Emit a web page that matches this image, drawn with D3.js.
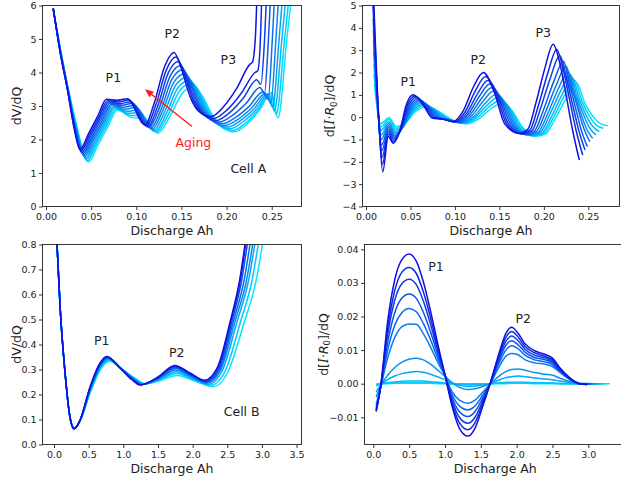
<!DOCTYPE html>
<html><head><meta charset="utf-8">
<script src="https://cdn.jsdelivr.net/npm/d3@7"></script>
<style>body{margin:0;background:#fff} svg text{font-family:"DejaVu Sans",sans-serif}</style>
</head><body><svg id="c" width="621" height="482"></svg>
<script>
// ---------------- DATA ----------------
// Cell A, dV/dQ : rows = curve features (left to right), columns = curves (aged/dark -> fresh/cyan)
const cellA_dvdq_x = [
 [0.008,0.008,0.008,0.008,0.008,0.008,0.008,0.008,0.008,0.008],
 [0.016,0.016,0.016,0.016,0.016,0.016,0.016,0.016,0.016,0.016],
 [0.024,0.024,0.024,0.024,0.024,0.024,0.024,0.024,0.024,0.024],
 [0.031,0.0312,0.0314,0.0317,0.0319,0.0321,0.0323,0.0326,0.0328,0.033],
 [0.0377,0.0387,0.0398,0.0408,0.0418,0.0429,0.0439,0.0449,0.046,0.047],
 [0.0475,0.0486,0.0497,0.0508,0.0519,0.0531,0.0542,0.0553,0.0564,0.0577],
 [0.0573,0.0585,0.0597,0.0609,0.0621,0.0634,0.0646,0.0658,0.067,0.0683],
 [0.067,0.0683,0.0697,0.071,0.0723,0.0737,0.075,0.0763,0.0777,0.079],
 [0.0785,0.0803,0.0822,0.084,0.0858,0.0877,0.0895,0.0913,0.0932,0.095],
 [0.090,0.092,0.094,0.096,0.098,0.100,0.102,0.104,0.106,0.108],
 [0.1095,0.1111,0.1127,0.1143,0.1159,0.1176,0.1192,0.1208,0.1224,0.124],
 [0.12,0.1219,0.1238,0.1257,0.1276,0.1294,0.1313,0.1332,0.1351,0.137],
 [0.131,0.1332,0.1353,0.1375,0.1397,0.1419,0.1441,0.1463,0.1484,0.151],
 [0.1418,0.144,0.1465,0.149,0.1515,0.154,0.1565,0.159,0.1615,0.164],
 [0.1495,0.1521,0.1547,0.1574,0.16,0.1626,0.1652,0.1678,0.1704,0.173],
 [0.16,0.1628,0.1656,0.1683,0.1711,0.1739,0.1767,0.1794,0.1822,0.185],
 [0.171,0.1738,0.1766,0.1793,0.1821,0.1849,0.1877,0.1904,0.1932,0.196],
 [0.183,0.186,0.189,0.192,0.195,0.198,0.201,0.204,0.207,0.209],
 [0.1973,0.2012,0.2038,0.207,0.21,0.213,0.2157,0.2183,0.221,0.2227],
 [0.2117,0.2163,0.2186,0.222,0.225,0.228,0.2303,0.2327,0.235,0.2363],
 [0.226,0.2315,0.2334,0.237,0.240,0.243,0.245,0.247,0.249,0.250],
 [0.2285,0.2345,0.238,0.242,0.246,0.249,0.251,0.253,0.255,0.257],
 [0.2318,0.2375,0.2421,0.2464,0.2507,0.2547,0.2582,0.2613,0.2643,0.2668],
 [0.2338,0.2392,0.2445,0.249,0.2535,0.258,0.2625,0.2662,0.2698,0.2725]
];
const cellA_dvdq_y = [
 [5.92,5.92,5.91,5.91,5.9,5.9,5.89,5.89,5.88,5.88],
 [4.55,4.57,4.58,4.6,4.62,4.63,4.65,4.67,4.68,4.7],
 [3.45,3.47,3.48,3.5,3.52,3.53,3.55,3.57,3.58,3.6],
 [2.35,2.37,2.39,2.4,2.42,2.44,2.46,2.48,2.5,2.52],
 [1.70,1.66,1.62,1.58,1.54,1.5,1.45,1.41,1.37,1.33],
 [2.2,2.16,2.12,2.08,2.04,2.01,1.97,1.93,1.89,1.85],
 [2.7,2.66,2.63,2.59,2.55,2.52,2.48,2.44,2.41,2.37],
 [3.2,3.16,3.12,3.09,3.05,3.02,2.98,2.95,2.91,2.88],
 [3.17,3.12,3.07,3.02,2.96,2.9,2.84,2.78,2.72,2.66],
 [3.22,3.18,3.13,3.08,3.02,2.96,2.88,2.80,2.71,2.62],
 [2.44,2.41,2.38,2.36,2.33,2.3,2.27,2.24,2.22,2.19],
 [3.1,3.05,3.0,2.96,2.91,2.87,2.82,2.77,2.73,2.68],
 [4.15,4.07,3.98,3.89,3.81,3.72,3.64,3.55,3.47,3.38],
 [4.6,4.46,4.33,4.2,4.08,3.96,3.86,3.76,3.68,3.6],
 [4.15,4.03,3.92,3.82,3.72,3.63,3.55,3.47,3.39,3.3],
 [3.25,3.19,3.13,3.07,3.0,2.94,2.88,2.82,2.76,2.7],
 [2.8,2.75,2.7,2.65,2.6,2.55,2.5,2.45,2.4,2.35],
 [2.69,2.63,2.57,2.52,2.47,2.42,2.37,2.32,2.27,2.23],
 [3.0,2.9,2.81,2.73,2.66,2.61,2.57,2.53,2.49,2.46],
 [3.55,3.38,3.24,3.09,2.99,2.95,2.91,2.89,2.88,2.87],
 [4.25,4.0,3.78,3.55,3.42,3.38,3.36,3.36,3.38,3.4],
 [4.3,4.05,3.65,3.38,3.2,3.08,2.97,2.85,2.74,2.64],
 [5.0,5.0,5.0,5.0,5.0,5.0,5.0,5.0,5.0,5.0],
 [6.4,6.4,6.4,6.4,6.4,6.4,6.4,6.4,6.4,6.4]
];

// Cell A, d[I*R0]/dQ
const cellA_ir_x = [
 [0.0075,0.0077,0.0079,0.0081,0.0083,0.0085,0.0087,0.0089,0.0091,0.0093],
 [0.0143,0.0142,0.014,0.0139,0.0138,0.0137,0.0136,0.0135,0.0134,0.0133],
 [0.0188,0.0185,0.0181,0.0178,0.0175,0.0172,0.0169,0.0166,0.0163,0.016],
 [0.025,0.0251,0.0252,0.0253,0.0254,0.0255,0.0256,0.0257,0.0258,0.026],
 [0.0307,0.031,0.0314,0.0318,0.0322,0.0326,0.033,0.0333,0.0337,0.034],
 [0.038,0.0389,0.0397,0.0405,0.0414,0.0423,0.0431,0.0439,0.0446,0.0453],
 [0.0457,0.0469,0.0481,0.0493,0.0505,0.0518,0.053,0.0542,0.0554,0.0567],
 [0.0532,0.0548,0.0565,0.0581,0.0598,0.0614,0.063,0.0647,0.0663,0.068],
 [0.065,0.0669,0.0688,0.0707,0.0726,0.0744,0.0763,0.0782,0.0801,0.082],
 [0.075,0.0769,0.0788,0.0807,0.0826,0.0844,0.0863,0.0882,0.0901,0.092],
 [0.086,0.0876,0.0891,0.0907,0.0922,0.0938,0.0953,0.0969,0.0984,0.1],
 [0.098,0.0997,0.1013,0.103,0.1047,0.1063,0.108,0.1097,0.1113,0.113],
 [0.1093,0.1114,0.1135,0.1153,0.1171,0.1192,0.1213,0.1227,0.1242,0.126],
 [0.1207,0.1231,0.1253,0.1273,0.1293,0.1314,0.1336,0.1353,0.1371,0.139],
 [0.132,0.1345,0.137,0.139,0.141,0.1435,0.146,0.148,0.150,0.152],
 [0.1445,0.1467,0.149,0.151,0.153,0.1553,0.1575,0.1597,0.162,0.164],
 [0.156,0.1582,0.1604,0.1627,0.1649,0.1671,0.1693,0.1716,0.1738,0.176],
 [0.172,0.174,0.176,0.178,0.18,0.182,0.184,0.186,0.188,0.19],
 [0.1816,0.1841,0.1865,0.189,0.1913,0.1934,0.1955,0.1976,0.1997,0.2018],
 [0.1913,0.1943,0.197,0.2,0.2025,0.2048,0.207,0.2092,0.2113,0.2135],
 [0.2009,0.2044,0.2075,0.211,0.2138,0.2161,0.2185,0.2208,0.223,0.2253],
 [0.2105,0.2145,0.218,0.222,0.225,0.2275,0.23,0.2324,0.2346,0.237],
 [0.2179,0.2218,0.2251,0.2287,0.2317,0.2344,0.2372,0.2399,0.2427,0.2459],
 [0.2252,0.2291,0.2322,0.2355,0.2385,0.2412,0.2443,0.2474,0.2508,0.2548],
 [0.2326,0.2364,0.2392,0.2422,0.2452,0.2481,0.2515,0.2549,0.2588,0.2636],
 [0.2399,0.2437,0.2463,0.2489,0.2519,0.2549,0.2586,0.2624,0.2669,0.2725]
];
const cellA_ir_y = [
 [6.5,5.6,5.0,4.4,3.9,3.4,2.9,2.4,1.95,1.5],
 [0.0,0.0,0.04,0.09,0.14,0.19,0.2,0.21,0.2,0.19],
 [-2.45,-2.1,-1.8,-1.5,-1.25,-1.0,-0.8,-0.6,-0.45,-0.3],
 [-0.87,-0.75,-0.64,-0.54,-0.45,-0.36,-0.28,-0.2,-0.11,-0.03],
 [-1.17,-1.09,-1.0,-0.92,-0.84,-0.76,-0.68,-0.59,-0.5,-0.42],
 [-0.6,-0.56,-0.52,-0.48,-0.44,-0.4,-0.36,-0.31,-0.26,-0.2],
 [0.6,0.56,0.52,0.48,0.45,0.42,0.39,0.36,0.32,0.29],
 [1.0,0.95,0.89,0.83,0.77,0.71,0.65,0.58,0.52,0.45],
 [0.5,0.47,0.44,0.42,0.39,0.36,0.33,0.31,0.28,0.25],
 [-0.05,-0.04,-0.04,-0.03,-0.03,-0.02,-0.02,-0.01,-0.01,0.0],
 [-0.08,-0.09,-0.1,-0.11,-0.12,-0.13,-0.14,-0.15,-0.16,-0.18],
 [-0.2,-0.21,-0.22,-0.23,-0.24,-0.25,-0.26,-0.27,-0.28,-0.3],
 [0.28,0.23,0.19,0.15,0.11,0.07,0.03,0.0,-0.05,-0.1],
 [1.34,1.19,1.04,0.92,0.8,0.7,0.6,0.5,0.42,0.33],
 [2.0,1.82,1.64,1.48,1.32,1.17,1.02,0.88,0.74,0.6],
 [1.1,1.0,0.92,0.84,0.76,0.68,0.6,0.5,0.4,0.3],
 [-0.3,-0.3,-0.31,-0.32,-0.33,-0.35,-0.37,-0.4,-0.42,-0.45],
 [-0.72,-0.74,-0.75,-0.77,-0.78,-0.8,-0.81,-0.83,-0.84,-0.86],
 [-0.56,-0.59,-0.61,-0.64,-0.66,-0.69,-0.7,-0.73,-0.74,-0.76],
 [0.67,0.58,0.48,0.37,0.29,0.2,0.14,0.07,0.03,-0.02],
 [2.15,1.97,1.78,1.58,1.42,1.25,1.14,1.03,0.95,0.86],
 [3.26,3.03,2.76,2.5,2.28,2.05,1.9,1.75,1.65,1.53],
 [2.43,2.13,1.83,1.54,1.3,1.09,0.93,0.81,0.73,0.65],
 [0.95,0.76,0.6,0.44,0.35,0.22,0.14,0.09,0.08,0.05],
 [-0.63,-0.61,-0.58,-0.59,-0.53,-0.53,-0.48,-0.41,-0.35,-0.29],
 [-1.92,-1.7,-1.47,-1.32,-1.1,-0.95,-0.8,-0.65,-0.5,-0.39]
];

// Cell B, dV/dQ
const cellB_dvdq_x = [
 [0.04,0.04,0.04,0.04,0.04,0.04,0.04,0.04],
 [0.09,0.09,0.09,0.09,0.09,0.09,0.09,0.09],
 [0.16,0.16,0.16,0.16,0.16,0.16,0.16,0.16],
 [0.23,0.23,0.23,0.23,0.23,0.23,0.23,0.23],
 [0.29,0.29,0.291,0.291,0.292,0.292,0.293,0.294],
 [0.375,0.375,0.375,0.375,0.375,0.375,0.375,0.375],
 [0.52,0.521,0.522,0.523,0.525,0.527,0.53,0.533],
 [0.66,0.662,0.664,0.666,0.668,0.671,0.675,0.68],
 [0.76,0.765,0.77,0.775,0.78,0.785,0.79,0.8],
 [0.95,0.955,0.96,0.965,0.97,0.975,0.98,0.99],
 [1.13,1.135,1.14,1.145,1.15,1.155,1.16,1.17],
 [1.24,1.25,1.26,1.27,1.28,1.29,1.3,1.32],
 [1.5,1.5,1.5,1.5,1.5,1.5,1.5,1.5],
 [1.74,1.745,1.75,1.755,1.76,1.765,1.77,1.78],
 [1.97,1.975,1.98,1.985,1.99,2.0,2.01,2.02],
 [2.17,2.18,2.19,2.2,2.21,2.23,2.26,2.3],
 [2.36,2.37,2.38,2.39,2.4,2.42,2.46,2.5],
 [2.54,2.55,2.565,2.585,2.61,2.64,2.69,2.745],
 [2.68,2.69,2.71,2.745,2.78,2.81,2.86,2.92],
 [2.78,2.79,2.815,2.855,2.895,2.925,2.975,3.035]
];
const cellB_dvdq_y = [
 [0.82,0.82,0.82,0.82,0.82,0.82,0.82,0.82],
 [0.54,0.54,0.54,0.54,0.54,0.54,0.54,0.54],
 [0.285,0.285,0.285,0.285,0.285,0.285,0.285,0.285],
 [0.11,0.11,0.11,0.11,0.11,0.11,0.11,0.11],
 [0.063,0.063,0.063,0.063,0.064,0.064,0.064,0.065],
 [0.097,0.097,0.096,0.096,0.095,0.095,0.094,0.093],
 [0.23,0.229,0.227,0.225,0.223,0.221,0.218,0.215],
 [0.324,0.322,0.32,0.318,0.315,0.312,0.308,0.304],
 [0.352,0.351,0.349,0.347,0.344,0.341,0.337,0.333],
 [0.306,0.306,0.305,0.305,0.304,0.303,0.302,0.3],
 [0.258,0.259,0.26,0.261,0.262,0.263,0.264,0.265],
 [0.238,0.239,0.239,0.24,0.241,0.242,0.243,0.244],
 [0.27,0.268,0.266,0.264,0.262,0.259,0.256,0.253],
 [0.316,0.313,0.309,0.304,0.298,0.291,0.284,0.276],
 [0.285,0.282,0.278,0.274,0.27,0.265,0.26,0.255],
 [0.257,0.254,0.251,0.248,0.245,0.241,0.237,0.232],
 [0.31,0.306,0.302,0.298,0.294,0.29,0.288,0.285],
 [0.49,0.49,0.49,0.49,0.49,0.49,0.49,0.49],
 [0.66,0.66,0.66,0.66,0.66,0.66,0.66,0.66],
 [0.85,0.85,0.85,0.85,0.85,0.85,0.85,0.85]
];

// Cell B, d[I*R0]/dQ : shared Ah grid, one row per curve, plus each curve's last point
const cellB_ir_grid = [0.04,0.1,0.2,0.3,0.4,0.5,0.6,0.7,0.8,0.9,1.0,1.1,1.2,1.32,1.42,1.52,1.63,1.75,1.85,1.93,2.02,2.12,2.25,2.4,2.5,2.6,2.75,2.88];
const cellB_ir_y = [
 [-0.0083,-0.0012,0.0185,0.031,0.037,0.0386,0.0365,0.0302,0.0215,0.0118,0.0026,-0.0068,-0.0132,-0.0156,-0.0132,-0.0072,0.0,0.0088,0.015,0.0168,0.015,0.0118,0.0098,0.0087,0.0076,0.0048,0.0016,0.0],
 [-0.0081,-0.0013,0.0163,0.0278,0.0332,0.0346,0.0328,0.0272,0.0195,0.0108,0.0026,-0.0059,-0.0116,-0.0137,-0.0116,-0.0063,0.0,0.0081,0.0138,0.0155,0.0139,0.011,0.0092,0.0081,0.0071,0.0045,0.0015,0.0],
 [-0.0078,-0.0013,0.0145,0.0249,0.0298,0.0311,0.0295,0.0245,0.0176,0.0098,0.0026,-0.0051,-0.01,-0.0118,-0.01,-0.0054,0.0,0.0074,0.0126,0.0142,0.0128,0.0102,0.0085,0.0076,0.0066,0.0042,0.0014,0.0],
 [-0.0075,-0.0014,0.0122,0.0212,0.0255,0.0267,0.0254,0.0212,0.0153,0.0086,0.0026,-0.0042,-0.0083,-0.0098,-0.0083,-0.0045,0.0,0.0067,0.0114,0.0128,0.0116,0.0093,0.0078,0.0071,0.0062,0.004,0.0013,0.0],
 [-0.007,-0.0014,0.0099,0.0175,0.0212,0.0224,0.0214,0.0179,0.013,0.0074,0.0025,-0.0033,-0.0066,-0.0078,-0.0066,-0.0036,0.0,0.0059,0.01,0.0113,0.0104,0.0084,0.0071,0.0065,0.0057,0.0037,0.0012,0.0],
 [-0.0062,-0.0013,0.0076,0.0138,0.017,0.0178,0.0177,0.0148,0.0108,0.0063,0.0024,-0.0024,-0.0049,-0.0058,-0.0049,-0.0027,0.0,0.0048,0.0082,0.009,0.0086,0.0071,0.0062,0.0058,0.0051,0.0034,0.0011,0.0],
 [-0.004,-0.0008,0.0025,0.0048,0.0064,0.0073,0.0076,0.0071,0.0058,0.004,0.0022,0.0003,-0.0011,-0.0017,-0.0015,-0.0009,0.0,0.0022,0.0036,0.0042,0.0044,0.004,0.0033,0.0028,0.0025,0.0017,0.0006,0.0001],
 [-0.0025,-0.0004,0.0012,0.0023,0.003,0.0034,0.0036,0.0034,0.0028,0.002,0.0012,0.0002,-0.0005,-0.0008,-0.0007,-0.0004,0.0,0.0011,0.0018,0.0021,0.0023,0.0021,0.0017,0.0014,0.0012,0.0008,0.0003,0.0],
 [-0.0006,-0.0001,0.0003,0.0005,0.0007,0.0008,0.0008,0.0008,0.0006,0.0004,0.0002,0.0,-0.0002,-0.0003,-0.0002,-0.0001,0.0,0.0002,0.0004,0.0004,0.0004,0.0004,0.0003,0.0003,0.0002,0.0001,0.0,0.0],
 [-0.0003,0.0,0.0001,0.0002,0.0003,0.0003,0.0003,0.0003,0.0002,0.0002,0.0001,0.0,-0.0001,-0.0001,-0.0001,0.0,0.0,0.0001,0.0001,0.0002,0.0002,0.0002,0.0001,0.0001,0.0001,0.0,0.0,0.0],
 [-0.0001,0.0,0.0,0.0001,0.0001,0.0001,0.0001,0.0001,0.0001,0.0,0.0,0.0,0.0,0.0,0.0,0.0,0.0,0.0,0.0,0.0001,0.0001,0.0001,0.0,0.0,0.0,0.0,0.0,0.0]
];
const cellB_ir_endX = [2.98,3.0,3.01,3.02,3.04,3.06,3.1,3.15,3.2,3.25,3.3];
const cellB_ir_endY = [-0.0003,-0.0002,-0.0002,-0.0001,-0.0001,0.0,0.0,0.0,0.0,0.0,0.0];

// ticks
const ticksA_x = [0,0.05,0.10,0.15,0.20,0.25];
const ticksA_dvdq_y = [0,1,2,3,4,5,6];
const ticksA_ir_y = [-4,-3,-2,-1,0,1,2,3,4,5];
const ticksB_x = [0,0.5,1.0,1.5,2.0,2.5,3.0,3.5];
const ticksB_dvdq_y = [0,0.1,0.2,0.3,0.4,0.5,0.6,0.7,0.8];
const ticksB_ir_x = [0,0.5,1.0,1.5,2.0,2.5,3.0];
const ticksB_ir_y = [-0.01,0,0.01,0.02,0.03,0.04];

// ---------------- DRAW ----------------
const svg = d3.select("#c");
const FONT = '"DejaVu Sans", sans-serif';

function fromFeatures(xRows, yRows){
  const n = xRows[0].length;
  return d3.range(n).map(i => xRows.map((row, j) => [row[i], yRows[j][i]]));
}
function fromGrid(grid, rows, endX, endY){
  return rows.map((r, i) => grid.map((gx, j) => [gx, r[j]]).concat([[endX[i], endY[i]]]));
}

function panel(cfg){
  const x = d3.scaleLinear().domain(cfg.xDomain).range([cfg.left, cfg.right]);
  const y = d3.scaleLinear().domain(cfg.yDomain).range([cfg.bottom, cfg.top]);
  const g = svg.append("g");
  svg.append("clipPath").attr("id", cfg.id).append("rect")
    .attr("x", cfg.left).attr("y", cfg.top)
    .attr("width", cfg.right - cfg.left).attr("height", cfg.bottom - cfg.top);
  const n = cfg.curves.length;
  const col = i => d3.interpolateRgb("#1010e0", "#00e8ff")(n === 1 ? 0 : i / (n - 1));
  const line = d3.line().x(d => x(d[0])).y(d => y(d[1])).curve(d3.curveMonotoneX);
  const lg = g.append("g").attr("clip-path", `url(#${cfg.id})`);
  for (let i = n - 1; i >= 0; i--) {
    lg.append("path").attr("d", line(cfg.curves[i]))
      .attr("fill", "none").attr("stroke", col(i)).attr("stroke-width", 1.5)
      .attr("stroke-linejoin", "round");
  }
  const styleAxis = a => {
    a.select(".domain").remove();
    a.selectAll(".tick line").attr("stroke", "#222").attr("stroke-width", 0.9);
    a.selectAll(".tick text").attr("fill", "#222").attr("font-size", 9.5).attr("font-family", FONT);
  };
  g.append("g").attr("transform", `translate(0,${cfg.bottom})`)
    .call(d3.axisBottom(x).tickValues(cfg.xTicks).tickFormat(cfg.xFmt).tickSize(3.5).tickPadding(3))
    .call(styleAxis);
  g.append("g").attr("transform", `translate(${cfg.left},0)`)
    .call(d3.axisLeft(y).tickValues(cfg.yTicks).tickFormat(cfg.yFmt).tickSize(3.5).tickPadding(2.5))
    .call(styleAxis);
  g.append("rect").attr("x", cfg.left).attr("y", cfg.top)
    .attr("width", cfg.right - cfg.left).attr("height", cfg.bottom - cfg.top)
    .attr("fill", "none").attr("stroke", "#222").attr("stroke-width", 0.9);
  // x label
  g.append("text").attr("x", (cfg.left + Math.min(cfg.right, 621)) / 2 + (cfg.xlabShift || 0))
    .attr("y", cfg.bottom + 28.5).attr("text-anchor", "middle")
    .attr("font-size", 12.5).attr("fill", "#222").text("Discharge Ah");
  // y label
  const yl = g.append("text")
    .attr("transform", `translate(${cfg.ylabX},${(cfg.top + cfg.bottom) / 2}) rotate(-90)`)
    .attr("text-anchor", "middle").attr("font-size", 12.5).attr("fill", "#222");
  if (cfg.ylabel === "dv") {
    yl.text("dV/dQ");
  } else {
    yl.append("tspan").text("d[");
    yl.append("tspan").attr("font-style", "italic").attr("font-family", '"DejaVu Serif", serif').text("I");
    yl.append("tspan").text("·");
    yl.append("tspan").attr("font-style", "italic").text("R");
    yl.append("tspan").attr("font-size", 8.5).attr("dy", 2.5).text("0");
    yl.append("tspan").attr("dy", -2.5).text("]/dQ");
  }
  // annotations
  (cfg.notes || []).forEach(nt => {
    g.append("text").attr("x", x(nt[0])).attr("y", y(nt[1]))
      .attr("text-anchor", "middle").attr("font-size", 12.5)
      .attr("fill", nt[3] || "#222").text(nt[2]);
  });
  return {x, y, g};
}

const f2 = d3.format(".2f"), f1 = d3.format(".1f"), fi = d3.format("d");

const pA = panel({
  id: "clipA", left: 42.5, right: 301.5, top: 5.5, bottom: 206.5,
  xDomain: [-0.00388, 0.2830], yDomain: [0, 6],
  xTicks: ticksA_x, yTicks: ticksA_dvdq_y, xFmt: f2, yFmt: fi,
  curves: fromFeatures(cellA_dvdq_x, cellA_dvdq_y), ylabel: "dv", ylabX: 21,
  notes: [[0.0746, 3.73, "P1"], [0.1399, 5.03, "P2"], [0.202, 4.26, "P3"],
          [0.1632, 1.79, "Aging", "#ff1a1a"], [0.2241, 1.0, "Cell A"]]
});
// aging arrow
{
  const x0 = pA.x(0.1617), y0 = pA.y(2.39), x1 = pA.x(0.1097), y1 = pA.y(3.5);
  const ang = Math.atan2(y1 - y0, x1 - x0), L = 8.5, Wd = 3.6;
  const bx = x1 - L * Math.cos(ang), by = y1 - L * Math.sin(ang);
  pA.g.append("line").attr("x1", x0).attr("y1", y0).attr("x2", bx).attr("y2", by)
    .attr("stroke", "#ff1a1a").attr("stroke-width", 1.4);
  pA.g.append("polygon").attr("fill", "#ff1a1a").attr("points", [
    [x1, y1],
    [bx + Wd * Math.sin(ang), by - Wd * Math.cos(ang)],
    [bx - Wd * Math.sin(ang), by + Wd * Math.cos(ang)]
  ].map(p => p.join(",")).join(" "));
}

panel({
  id: "clipB", left: 362.5, right: 619.5, top: 5.5, bottom: 206.5,
  xDomain: [-0.00394, 0.2851], yDomain: [-4, 5],
  xTicks: ticksA_x, yTicks: ticksA_ir_y, xFmt: f2, yFmt: fi,
  curves: fromFeatures(cellA_ir_x, cellA_ir_y), ylabel: "ir", ylabX: 334,
  notes: [[0.0476, 1.41, "P1"], [0.1263, 2.39, "P2"], [0.1994, 3.59, "P3"]]
});

panel({
  id: "clipC", left: 42.5, right: 301.5, top: 244.5, bottom: 444.5,
  xDomain: [-0.166, 3.571], yDomain: [0, 0.8],
  xTicks: ticksB_x, yTicks: ticksB_dvdq_y, xFmt: f1, yFmt: f1,
  curves: fromFeatures(cellB_dvdq_x, cellB_dvdq_y), ylabel: "dv", ylabX: 21,
  notes: [[0.688, 0.398, "P1"], [1.771, 0.351, "P2"], [2.708, 0.115, "Cell B"]]
});

panel({
  id: "clipD", left: 364.5, right: 622, top: 244.5, bottom: 444.5,
  xDomain: [-0.1228, 3.470], yDomain: [-0.01810, 0.04143],
  xTicks: ticksB_ir_x, yTicks: ticksB_ir_y, xFmt: f1, yFmt: f2,
  curves: fromGrid(cellB_ir_grid, cellB_ir_y, cellB_ir_endX, cellB_ir_endY), ylabel: "ir", ylabX: 327.5,
  xlabShift: 2.5,
  notes: [[0.875, 0.0336, "P1"], [2.093, 0.018, "P2"]]
});
</script></body></html>
